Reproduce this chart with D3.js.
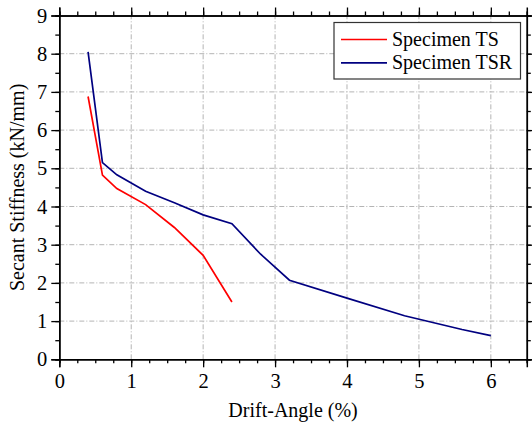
<!DOCTYPE html>
<html><head><meta charset="utf-8">
<script src="https://cdn.jsdelivr.net/npm/d3@7/dist/d3.min.js"></script>
<style>body{margin:0;background:#fff}svg{display:block}</style>
</head><body>
<script>
const tsX = [0.4, 0.6, 0.8, 1.2, 1.6, 2.0, 2.4];
const tsY = [6.88, 4.82, 4.47, 4.05, 3.45, 2.72, 1.50];
const tsrX = [0.4, 0.6, 0.8, 1.2, 1.6, 2.0, 2.4, 2.8, 3.2, 4.0, 4.8, 5.6, 6.0];
const tsrY = [8.05, 5.15, 4.83, 4.40, 4.10, 3.78, 3.55, 2.75, 2.07, 1.60, 1.14, 0.78, 0.62];
const xTicks = [0, 1, 2, 3, 4, 5, 6];
const yTicks = [0, 1, 2, 3, 4, 5, 6, 7, 8, 9];
const seriesNames = ["Specimen TS", "Specimen TSR"];
const seriesColors = ["#ff0000", "#000080"];

const FONT = "'Liberation Serif', 'Times New Roman'";
const W = 532, H = 429;
const m = {l: 59.3, r: W - 526.8, t: 15.5, b: H - 359.3};
const svg = d3.select("body").append("svg").attr("width", W).attr("height", H);
const x = d3.scaleLinear().domain([0, 6.5]).range([m.l, W - m.r]);
const y = d3.scaleLinear().domain([0, 9]).range([H - m.b, m.t]);

// grid
const g = svg.append("g");
g.selectAll(".gx").data(xTicks.filter(d => d > 0)).join("line")
  .attr("x1", d => x(d)).attr("x2", d => x(d)).attr("y1", y(0)).attr("y2", y(9))
  .attr("stroke", "#b4b4b4").attr("stroke-width", 1).attr("stroke-dasharray", "5,2,1,2");
g.selectAll(".gy").data(yTicks.filter(d => d > 0 && d < 9)).join("line")
  .attr("x1", x(0)).attr("x2", x(6.5)).attr("y1", d => y(d)).attr("y2", d => y(d))
  .attr("stroke", "#b4b4b4").attr("stroke-width", 1).attr("stroke-dasharray", "5,2,1,2");

// lines
const line = d3.line().x(d => x(d[0])).y(d => y(d[1]));
const series = [tsX.map((v, i) => [v, tsY[i]]), tsrX.map((v, i) => [v, tsrY[i]])];
series.forEach((s, i) => {
  svg.append("path").datum(s).attr("d", line).attr("fill", "none")
    .attr("stroke", seriesColors[i]).attr("stroke-width", 1.7);
});

// axes
const minorX = d3.range(0, 6.51, 0.25);
const minorY = d3.range(0, 9.01, 0.5);
function styleAxis(sel) {
  sel.select(".domain").attr("stroke", "#000").attr("stroke-width", 1.5);
  sel.selectAll(".tick line").attr("stroke", "#000").attr("stroke-width", 1.3);
  sel.selectAll("text").attr("fill", "#000")
    .style("font-family", FONT).style("font-size", "20.5px");
}
// minor
svg.append("g").attr("transform", `translate(0,${y(0)})`)
  .call(d3.axisBottom(x).tickValues(minorX).tickSize(4).tickFormat("")).call(styleAxis);
svg.append("g").attr("transform", `translate(0,${y(9)})`)
  .call(d3.axisTop(x).tickValues(minorX).tickSize(4).tickFormat("")).call(styleAxis);
svg.append("g").attr("transform", `translate(${x(0)},0)`)
  .call(d3.axisLeft(y).tickValues(minorY).tickSize(4).tickFormat("")).call(styleAxis);
svg.append("g").attr("transform", `translate(${x(6.5)},0)`)
  .call(d3.axisRight(y).tickValues(minorY).tickSize(4).tickFormat("")).call(styleAxis);
// major
svg.append("g").attr("transform", `translate(0,${y(0)})`)
  .call(d3.axisBottom(x).tickValues(xTicks).tickSize(8).tickPadding(6).tickFormat(d3.format("d"))).call(styleAxis);
svg.append("g").attr("transform", `translate(0,${y(9)})`)
  .call(d3.axisTop(x).tickValues(xTicks).tickSize(8).tickFormat("")).call(styleAxis);
svg.append("g").attr("transform", `translate(${x(0)},0)`)
  .call(d3.axisLeft(y).tickValues(yTicks).tickSize(8).tickPadding(4).tickFormat(d3.format("d"))).call(styleAxis);
svg.append("g").attr("transform", `translate(${x(6.5)},0)`)
  .call(d3.axisRight(y).tickValues(yTicks).tickSize(8).tickFormat("")).call(styleAxis);

// axis titles
svg.append("text").attr("x", (x(0) + x(6.5)) / 2).attr("y", 417).attr("text-anchor", "middle")
  .style("font-family", FONT).style("font-size", "20px").text("Drift-Angle (%)");
svg.append("text").attr("transform", `translate(24,${(y(0) + y(9)) / 2}) rotate(-90)`)
  .attr("text-anchor", "middle").style("font-family", FONT).style("font-size", "20px")
  .text("Secant Stiffness (kN/mm)");

// legend
const lg = svg.append("g");
lg.append("rect").attr("x", 334).attr("y", 22.5).attr("width", 186.5).attr("height", 56.5)
  .attr("fill", "#fff").attr("stroke", "#333").attr("stroke-width", 1.2);
seriesNames.forEach((n, i) => {
  const yy = 39.5 + i * 23.3;
  lg.append("line").attr("x1", 341).attr("x2", 387).attr("y1", yy).attr("y2", yy)
    .attr("stroke", seriesColors[i]).attr("stroke-width", 1.7);
  lg.append("text").attr("x", 392).attr("y", yy + 6)
    .style("font-family", FONT).style("font-size", "20px").text(n);
});
</script>
</body></html>
